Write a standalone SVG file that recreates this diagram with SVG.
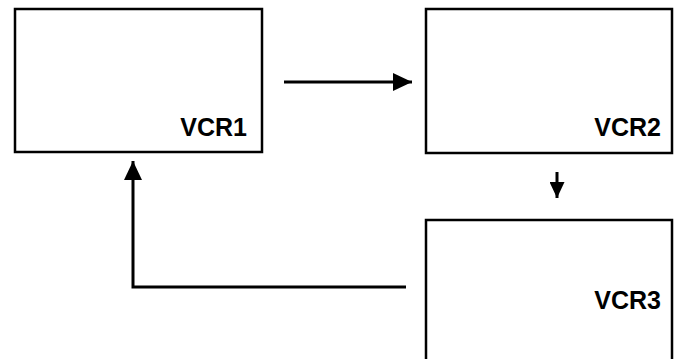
<svg xmlns="http://www.w3.org/2000/svg" width="677" height="359" viewBox="0 0 677 359">
<style>
.box{fill:#fff;stroke:#000;stroke-width:2.5}
.lbl{font-family:"Liberation Sans",Arial,sans-serif;font-weight:bold;font-size:25px;fill:#000;text-anchor:end}
.conn{fill:none;stroke:#000;stroke-width:3}
</style>
<defs>
<marker id="ah" markerUnits="userSpaceOnUse" markerWidth="20" markerHeight="18" refX="19" refY="9" orient="auto">
<path d="M0,0 L19,9 L0,18 Z" fill="#000"/>
</marker>
<marker id="ahs" markerUnits="userSpaceOnUse" markerWidth="17" markerHeight="15" refX="16" refY="7.5" orient="auto">
<path d="M0,0 L16,7.5 L0,15 Z" fill="#000"/>
</marker>
</defs>
<rect width="677" height="359" fill="#fff"/>
<g id="vcr1">
<rect class="box" x="15" y="9" width="247" height="143"/>
<text class="lbl" x="247" y="136">VCR1</text>
</g>
<g id="vcr2">
<rect class="box" x="426" y="9" width="246" height="144"/>
<text class="lbl" x="661" y="136">VCR2</text>
</g>
<g id="vcr3">
<rect class="box" x="426" y="220" width="246" height="150"/>
<text class="lbl" x="661" y="309">VCR3</text>
</g>
<g id="connectors">
<line class="conn" x1="284" y1="82" x2="412" y2="82" marker-end="url(#ah)"/>
<line class="conn" x1="557" y1="172" x2="557" y2="198" marker-end="url(#ahs)"/>
<polyline class="conn" points="406,287 133,287 133,161" marker-end="url(#ah)"/>
</g>
</svg>
